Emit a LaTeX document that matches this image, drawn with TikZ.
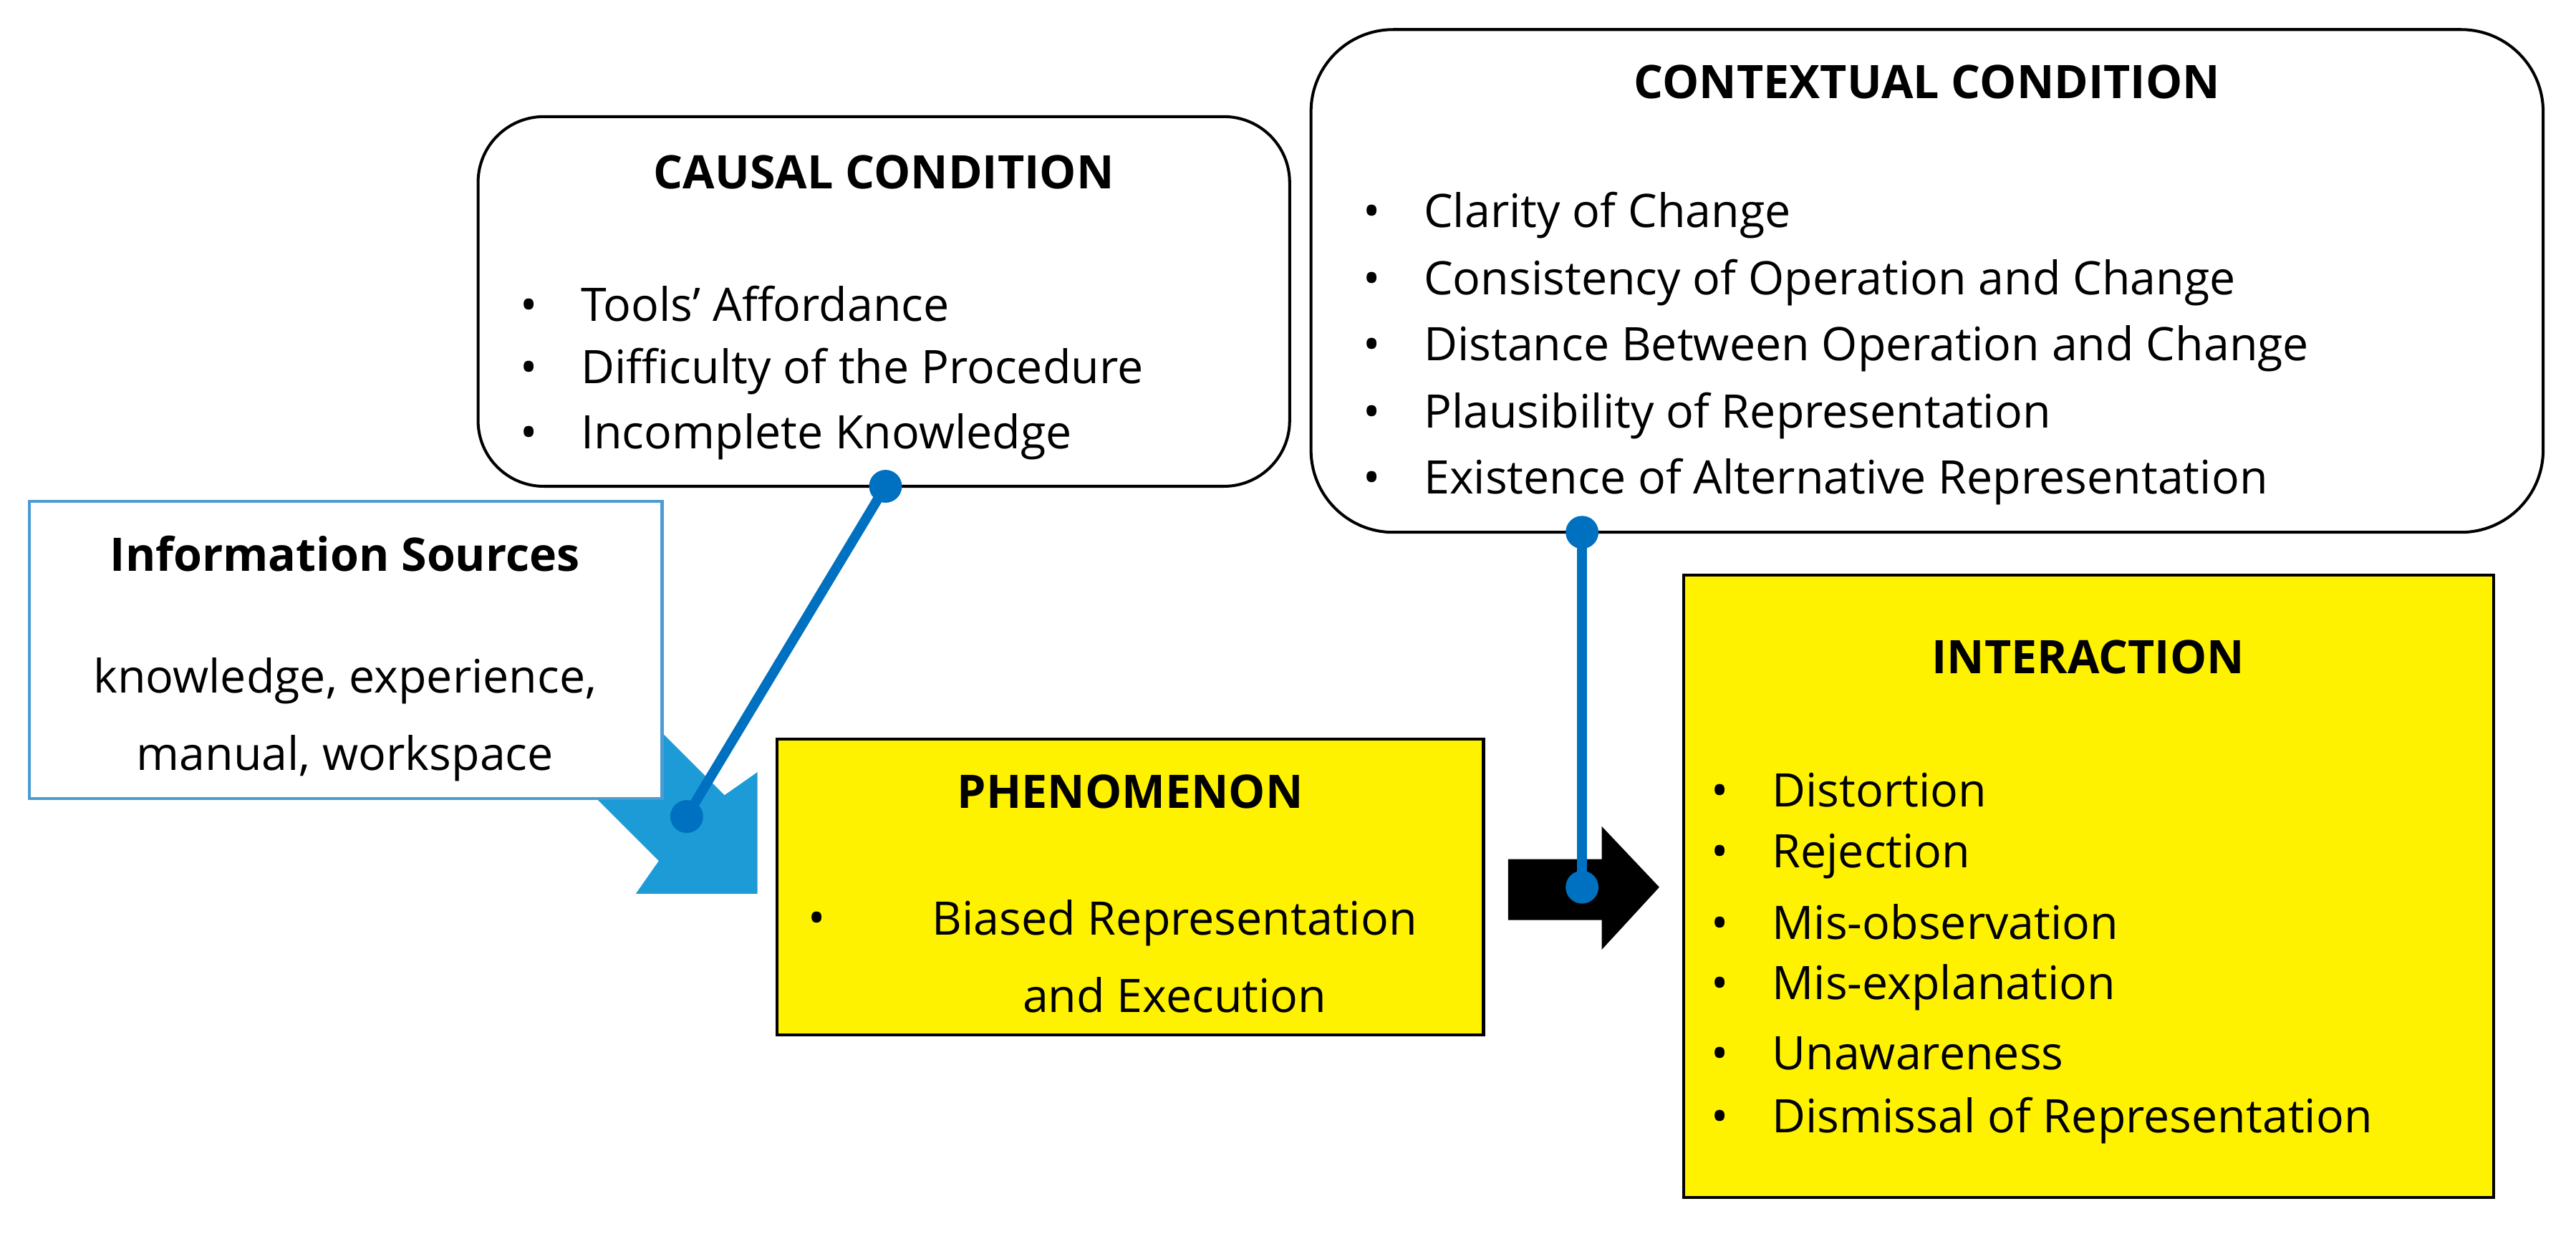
\documentclass[tikz,border=0pt]{standalone}
\usepackage{fontspec}
\setmainfont{Open Sans}
\newcommand{\bul}{\makebox[3.7mm][l]{\textbullet}}

\begin{document}
\begin{tikzpicture}[x=0.1mm, y=-0.1mm, font=\fontsize{8}{10}\selectfont,
    box/.style={draw, line width=0.5pt},
    item/.style={anchor=west, inner sep=0pt},
    head/.style={font=\fontsize{8}{10}\selectfont\bfseries, inner sep=0pt},
    link/.style={draw=linkblue, line width=1.7pt},
    dot/.style={circle, fill=linkblue, inner sep=0pt, minimum size=2mm}]
    \definecolor{linkblue}{RGB}{0,112,192}
    \definecolor{arrowblue}{RGB}{29,155,215}
    \useasboundingbox (0,0) rectangle (1568,751);

    % Block Arrows
    \fill[arrowblue] (461,544) -- (387,544) -- (401,524) -- (251,374) -- (291,334)
        -- (441,484) -- (461,470) -- cycle;
    \fill[black] (918,523) -- (975,523) -- (975,503) -- (1010,540) -- (975,578)
        -- (975,560) -- (918,560) -- cycle;

    % Information Sources
    \draw[box, draw=linkblue!70, fill=white] (18,305) rectangle (403,486);
    \node[head] (info) at (210,337) {Information Sources};
    \node[inner sep=0pt, align=center] (infotxt) at (210,438)
        {knowledge, experience,\\[1.2mm]manual, workspace};

    % Causal Condition
    \draw[box, rounded corners=4mm] (291,71) rectangle (785,296);
    \node[head] (causal) at (538,105) {CAUSAL CONDITION};
    \node[item] (c1) at (316,185) {\bul Tools’ Affordance};
    \node[item] (c2) at (316,226) {\bul Difficulty of the Procedure};
    \node[item] (c3) at (316,266) {\bul Incomplete Knowledge};

    % Contextual Condition
    \draw[box, rounded corners=5mm] (798,18) rectangle (1548,324);
    \node[head] (context) at (1173,50) {CONTEXTUAL CONDITION};
    \node[item] (k1) at (829,131) {\bul Clarity of Change};
    \node[item] (k2) at (829,172) {\bul Consistency of Operation and Change};
    \node[item] (k3) at (829,212) {\bul Distance Between Operation and Change};
    \node[item] (k4) at (829,253) {\bul Plausibility of Representation};
    \node[item] (k5) at (829,293) {\bul Existence of Alternative Representation};

    % Phenomenon
    \draw[box, fill=yellow] (473,450) rectangle (903,630);
    \node[head] (phen) at (688,482) {PHENOMENON};
    \node[inner sep=0pt] (pb) at (497,562) {\textbullet};
    \node[inner sep=0pt, align=center] (ptxt) at (715,582)
        {Biased Representation\\[1.2mm]and Execution};

    % Interaction
    \draw[box, fill=yellow] (1025,350) rectangle (1518,729);
    \node[head] (inter) at (1271,400) {INTERACTION};
    \node[item] (i1) at (1041,481) {\bul Distortion};
    \node[item] (i2) at (1041,521) {\bul Rejection};
    \node[item] (i3) at (1041,561) {\bul Mis-observation};
    \node[item] (i4) at (1041,601) {\bul Mis-explanation};
    \node[item] (i5) at (1041,641) {\bul Unawareness};
    \node[item] (i6) at (1041,682) {\bul Dismissal of Representation};

    % Connectors
    \node[dot] (d1) at (539,296) {};
    \node[dot] (d2) at (418,497) {};
    \node[dot] (d3) at (963,324) {};
    \node[dot] (d4) at (963,540) {};
    \draw[link] (d1.center) -- (d2.center);
    \draw[link] (d3.center) -- (d4.center);
\end{tikzpicture}
\end{document}
